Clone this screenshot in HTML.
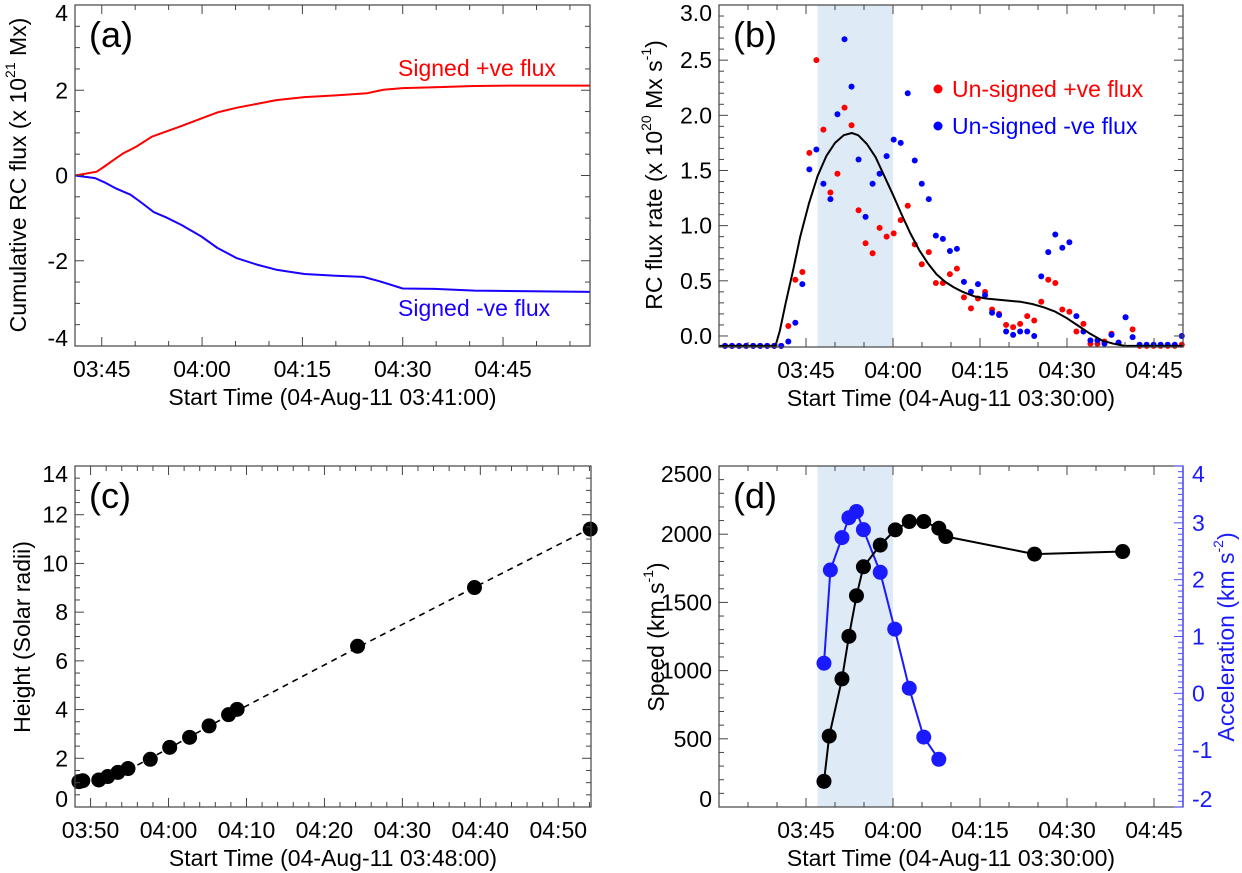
<!DOCTYPE html>
<html><head><meta charset="utf-8"><style>
html,body{margin:0;padding:0;background:#fff}
svg{display:block;font-family:"Liberation Sans",Arial,sans-serif}
</style></head><body>
<svg id="fig" width="1242" height="873" viewBox="0 0 1242 873" xmlns="http://www.w3.org/2000/svg"></svg>
<script>
// ---- Panel (a) data: minutes since 03:41 ----
const aRedT=[0,3.25,4.4,5.9,7.1,9.2,11.5,13.6,15.9,18.9,21.3,24.2,27.2,30.1,34.3,39,43.7,46.1,49,53.8,59.7,65.6,77];
const aRedV=[0,0.09,0.21,0.38,0.51,0.68,0.91,1.03,1.16,1.34,1.48,1.59,1.68,1.77,1.84,1.88,1.93,2.01,2.05,2.07,2.10,2.11,2.11];
const aBlueT=[0,3,4.4,6.2,8.3,9.7,11.8,13.6,15.9,18.9,21.3,24.2,27.2,30.1,34.3,39,43.1,45.5,49,53.8,59.7,77];
const aBlueV=[0,-0.06,-0.16,-0.31,-0.45,-0.61,-0.86,-0.98,-1.16,-1.43,-1.70,-1.94,-2.09,-2.21,-2.31,-2.35,-2.38,-2.48,-2.65,-2.66,-2.70,-2.73];
// ---- Panel (b) data: minutes since 03:30 ----
const bTimes=[1.04,2.25,3.46,4.68,5.89,7.10,8.31,9.52,10.73,11.95,13.16,14.37,15.58,16.79,18.00,19.21,20.42,21.64,22.85,24.06,25.27,26.48,27.69,28.90,30.12,31.33,32.54,33.75,34.96,36.17,37.39,38.60,39.81,41.02,42.23,43.44,44.65,45.87,47.08,48.29,49.50,50.71,51.92,53.14,54.35,55.56,56.77,57.98,59.19,60.41,61.62,62.83,64.04,65.25,66.46,67.67,68.89,70.10,71.31,72.52,73.73,74.94,76.15,77.36,78.58,79.79];
const bRed=[-0.09,-0.09,-0.09,-0.09,-0.09,-0.09,-0.09,-0.09,-0.09,
0.09,0.51,0.58,1.66,2.50,1.87,1.30,1.47,2.07,1.91,
1.14,0.84,0.75,0.98,0.90,0.93,1.05,1.18,0.83,0.65,
0.76,0.48,0.48,0.56,0.61,0.35,0.25,0.34,0.40,0.24,
0.20,0.10,0.08,0.11,0.18,0.14,0.31,0.51,0.48,0.24,
0.22,0.04,0.11,-0.07,-0.07,-0.05,0.02,-0.06,0.17,0.06,
-0.09,-0.09,-0.09,-0.09,-0.09,-0.09,-0.08];
const bBlue=[-0.09,-0.09,-0.09,-0.09,-0.09,-0.09,-0.09,-0.09,-0.09,
-0.05,0.12,0.47,1.51,1.69,1.38,1.24,2.01,2.69,2.26,
1.60,1.08,1.38,1.47,1.63,1.78,1.75,2.20,1.59,1.38,
1.24,0.91,0.88,0.77,0.79,0.49,0.40,0.47,0.37,0.21,
0.19,0.04,0.01,0.04,0.04,0.00,0.54,0.76,0.92,0.80,
0.85,0.18,0.04,-0.04,-0.04,-0.07,0.01,-0.06,0.17,-0.01,
-0.08,-0.08,-0.08,-0.08,-0.08,-0.08,0.00];
const bFitT=[0,7,9.75,10.5,11.5,12.8,14,15.5,17,18.5,20,21.5,22.9,24,25.5,27,28.5,30,31.5,33,34.5,36,37.5,39,40.5,42,44,46,48,50,52,54,56,58,60,62,64,66,68,70,80];
const bFitV=[-0.09,-0.09,-0.09,0.05,0.3,0.6,0.9,1.2,1.45,1.63,1.75,1.82,1.84,1.82,1.74,1.62,1.45,1.28,1.1,0.93,0.78,0.66,0.56,0.49,0.44,0.40,0.36,0.34,0.33,0.32,0.31,0.29,0.26,0.22,0.16,0.09,0.02,-0.04,-0.07,-0.09,-0.09];
// ---- Panel (c) data: minutes since 03:48 ----
const cT=[0.5,1.0,3.05,4.2,5.5,6.8,9.66,12.15,14.7,17.2,19.7,20.8,36.25,51.25,66.1];
const cH=[1.04,1.08,1.11,1.25,1.42,1.58,1.96,2.45,2.86,3.33,3.79,4.01,6.60,9.01,11.41];
const cFitT=[8,12,17,20.8,36.25,51.25,66.2];
const cFitH=[1.72,2.40,3.28,3.95,6.55,9.02,11.45];
// ---- Panel (d) data: minutes since 03:30 ----
const dSpeedT=[18.1,19.0,21.2,22.4,23.7,24.9,27.8,30.4,32.8,35.3,37.9,39.1,54.4,69.6];
const dSpeed=[188,520,939,1251,1549,1761,1920,2032,2093,2093,2044,1983,1854,1873];
const dAccT=[18.1,19.2,21.2,22.4,23.7,24.9,27.8,30.3,32.8,35.3,37.9];
const dAcc=[0.53,2.17,2.74,3.09,3.20,2.88,2.13,1.13,0.09,-0.77,-1.16];
const shadeStart=17, shadeEnd=30;

const NS="http://www.w3.org/2000/svg";
const svg=document.getElementById('fig');
const FS=23;
function el(tag,attrs,parent){const e=document.createElementNS(NS,tag);for(const k in attrs)e.setAttribute(k,attrs[k]);(parent||svg).appendChild(e);return e;}
function fmtClock(m){m=Math.round(m);const h=Math.floor(m/60),mm=m%60;return String(h).padStart(2,'0')+':'+String(mm).padStart(2,'0');}

function makeAxes(P,opt){
  const g=el('g',{});
  
  
  const col='#444';
  for(let c=Math.ceil((P.base+P.xmin)/opt.xMinor)*opt.xMinor;c<=P.base+P.xmax+1e-6;c+=opt.xMinor){
    const x=P.sx(c-P.base);const maj=(c%opt.xMajor===0);const L=maj?9:5;
    el('line',{x1:x,x2:x,y1:P.y1,y2:P.y1-L,stroke:col,'stroke-width':1},g);
    el('line',{x1:x,x2:x,y1:P.y0,y2:P.y0+L,stroke:col,'stroke-width':1},g);
    if(maj && !(opt.skipFirst && Math.abs(c-P.base-P.xmin)<1e-6)){
      const t=el('text',{x:x,y:P.y1+23,'font-size':FS,'text-anchor':'middle','dominant-baseline':'central',fill:'#000'},g);t.textContent=fmtClock(c);
      }
  }
  const n=Math.round((P.ymax-P.ymin)/opt.yMinor);
  for(let i=0;i<=n;i++){
    const v=P.ymin+i*opt.yMinor;const y=P.sy(v);
    const maj=Math.abs(v/opt.yMajor-Math.round(v/opt.yMajor))<1e-6;const L=maj?9:5;
    el('line',{x1:P.x0,x2:P.x0+L,y1:y,y2:y,stroke:col,'stroke-width':1},g);
    if(!opt.noRightTicks) el('line',{x1:P.x1,x2:P.x1-L,y1:y,y2:y,stroke:col,'stroke-width':1},g);
    if(maj){let yy=y;if(i===0)yy=y-8;if(i===n)yy=y+8;
      const t=el('text',{x:P.x0-7,y:yy,'font-size':FS,'text-anchor':'end','dominant-baseline':'central',fill:'#000'},g);
      t.textContent=opt.yFmt(v);}
  }
  el('rect',{x:P.x0,y:P.y0,width:P.x1-P.x0,height:P.y1-P.y0,fill:'none',stroke:col,'stroke-width':1.2},g);
  const xt=el('text',{x:(P.x0+P.x1)/2,y:P.y1+51,'font-size':FS,'text-anchor':'middle','dominant-baseline':'central'},g);
  xt.textContent=opt.xTitle;
  const pl=el('text',{x:P.x0+14,y:P.y0+42,'font-size':36},g);pl.textContent=opt.letter;
  
  return g;
}
function rotTitle(x,y,parts,name,color){
  const t=el('text',{transform:`translate(${x},${y}) rotate(-90)`,'font-size':FS,'text-anchor':'middle','dominant-baseline':'central',fill:color||'#000'});
  
  parts.forEach(p=>{const s=el('tspan',p.sup?{'font-size':14,'baseline-shift':'super'}:{},t);s.textContent=p.t;});
}
function mkPanel(x0,x1,y0,y1,xmin,xmax,ymin,ymax,base){
  return {x0,x1,y0,y1,xmin,xmax,ymin,ymax,base,
    sx:t=>x0+(t-xmin)/(xmax-xmin)*(x1-x0),
    sy:v=>y1-(v-ymin)/(ymax-ymin)*(y1-y0)};
}
function line(P,T,V,attrs,name){
  const d=T.map((t,i)=>(i?'L':'M')+P.sx(t).toFixed(1)+','+P.sy(V[i]).toFixed(1)).join('');
  const p=el('path',Object.assign({d,fill:'none','stroke-linejoin':'round'},attrs));
  return p;
}
function dots(P,T,V,r,color,name){
  const g=el('g',{});
  T.forEach((t,i)=>{const c=el('circle',{cx:P.sx(t),cy:P.sy(V[i]),r,fill:color},g);
    });
}
function shade(P,name){
  const r=el('rect',{x:P.sx(shadeStart),y:P.y0,width:P.sx(shadeEnd)-P.sx(shadeStart),height:P.y1-P.y0,fill:'#deeaf6'});
  
}
function label(x,y,txt,color,name,size){
  const t=el('text',{x,y,'font-size':size||FS,fill:color,'dominant-baseline':'central'});t.textContent=txt;
  
}

// Panel (a)
const PA=mkPanel(75,590,5,346,0,77,-4,4,221);
line(PA,aRedT,aRedV,{stroke:'#ff0000','stroke-width':2},'signed-positive-flux-line');
line(PA,aBlueT,aBlueV,{stroke:'#1a00ff','stroke-width':2},'signed-negative-flux-line');
makeAxes(PA,{name:'panel-a',xMajor:15,xMinor:5,yMajor:2,yMinor:0.5,yFmt:v=>String(Math.round(v)),xTitle:'Start Time (04-Aug-11 03:41:00)',letter:'(a)'});
label(398,68,'Signed +ve flux','#ff0000','signed-positive-flux-label');
label(398,308,'Signed -ve flux','#1a00ff','signed-negative-flux-label');
rotTitle(18,175,[{t:'Cumulative RC flux (x 10'},{t:'21',sup:1},{t:' Mx)'}],'y-axis-title-a');

// Panel (b)
const PB=mkPanel(719,1183,5,347,0,80,-0.1,3.0,210);
shade(PB,'impulsive-phase-shade-b');
dots(PB,bTimes,bRed,3,'#ff0000','unsigned-positive-flux-points');
dots(PB,bTimes,bBlue,3,'#0000ff','unsigned-negative-flux-points');
line(PB,bFitT,bFitV,{stroke:'#000','stroke-width':2},'flux-rate-fit-line');
makeAxes(PB,{name:'panel-b',xMajor:15,xMinor:5,yMajor:0.5,yMinor:0.1,yFmt:v=>v.toFixed(1),xTitle:'Start Time (04-Aug-11 03:30:00)',letter:'(b)',skipFirst:true});
{const c1=el('circle',{cx:938,cy:89,r:4.5,fill:'#ff0000'});
 const c2=el('circle',{cx:938,cy:126,r:4.5,fill:'#0000ff'});}
label(952,89,'Un-signed +ve flux','#ff0000','legend-entry-positive');
label(952,126,'Un-signed -ve flux','#0000ff','legend-entry-negative');
rotTitle(654,175,[{t:'RC flux rate (x 10'},{t:'20',sup:1},{t:' Mx s'},{t:'-1',sup:1},{t:')'}],'y-axis-title-b');

// Panel (c)
const PC=mkPanel(75,591,466,807,0,66.2,0,14,228);
line(PC,cFitT,cFitH,{stroke:'#000','stroke-width':1.6,'stroke-dasharray':'6,5'},'height-fit-line');
dots(PC,cT,cH,7.5,'#000','height-points');
makeAxes(PC,{name:'panel-c',xMajor:10,xMinor:2,yMajor:2,yMinor:0.5,yFmt:v=>String(Math.round(v)),xTitle:'Start Time (04-Aug-11 03:48:00)',letter:'(c)'});
rotTitle(22,637,[{t:'Height (Solar radii)'}],'y-axis-title-c');

// Panel (d)
const PD=mkPanel(719,1183,466,807,0,80,0,2500,210);
const PDa=mkPanel(719,1183,466,807,0,80,-2,4,210);
shade(PD,'impulsive-phase-shade-d');
line(PDa,dAccT,dAcc,{stroke:'#1a1aff','stroke-width':2},'acceleration-line');
dots(PDa,dAccT,dAcc,7.5,'#1a1aff','acceleration-points');
line(PD,dSpeedT,dSpeed,{stroke:'#000','stroke-width':2},'speed-line');
dots(PD,dSpeedT,dSpeed,7.5,'#000','speed-points');
makeAxes(PD,{name:'panel-d',xMajor:15,xMinor:5,yMajor:500,yMinor:100,yFmt:v=>String(Math.round(v)),xTitle:'Start Time (04-Aug-11 03:30:00)',letter:'(d)',noRightTicks:true,skipFirst:true});
{const g=el('g',{});
 for(let i=0;i<=60;i++){const v=-2+i*0.1;const y=PDa.sy(v);const maj=(i%10===0);const L=maj?9:5;
  el('line',{x1:1183,x2:1183-L,y1:y,y2:y,stroke:'#5050ff','stroke-width':1},g);
  if(maj){let yy=y;if(i===0)yy=y-8;if(i===60)yy=y+8;
   const t=el('text',{x:1192,y:yy,'font-size':FS,fill:'#1a1aff','dominant-baseline':'central'},g);t.textContent=String(Math.round(v));
   }}
 el('line',{x1:1183,x2:1183,y1:466,y2:807,stroke:'#5050ff','stroke-width':1.5},g);}
rotTitle(656,637,[{t:'Speed (km s'},{t:'-1',sup:1},{t:')'}],'y-axis-title-d');
rotTitle(1226,637,[{t:'Acceleration (km s'},{t:'-2',sup:1},{t:')'}],'y2-axis-title-d','#1a1aff');
</script>
</body></html>
